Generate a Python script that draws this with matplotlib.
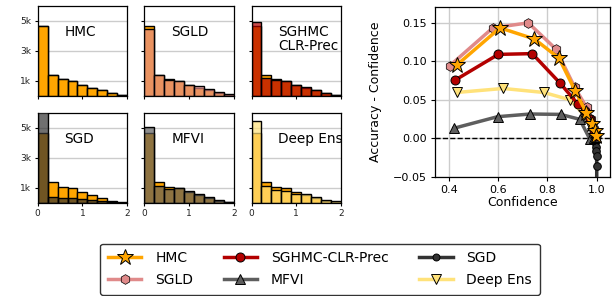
import numpy as np
import matplotlib
matplotlib.use("Agg")
import matplotlib.pyplot as plt
from matplotlib.lines import Line2D
from matplotlib.colors import to_rgba

#####################
# Data
#####################

bin_edges = np.linspace(0, 2, 10)

# histogram counts per bin
hist_hmc = [4660, 1360, 1070, 980, 730, 530, 350, 150, 30]
hist_sgld = [4440, 1340, 1020, 960, 710, 620, 440, 260, 80]
hist_sghmc = [4930, 1160, 1020, 970, 730, 570, 400, 170, 60]
hist_sgd = [8300, 410, 310, 310, 245, 180, 130, 60, 20]
hist_mfvi = [5050, 1120, 910, 980, 780, 580, 380, 210, 70]
hist_ens = [5490, 1090, 870, 800, 580, 555, 380, 200, 90]

# reliability curves: confidence vs (accuracy - confidence)
conf_hmc = [0.431, 0.607, 0.747, 0.847, 0.912, 0.958, 0.979, 0.993, 0.999]
gap_hmc = [0.095, 0.1435, 0.129, 0.104, 0.062, 0.033, 0.018, 0.009, 0.003]

conf_sgld = [0.402, 0.578, 0.722, 0.834, 0.911, 0.959, 0.975, 0.99, 0.998]
gap_sgld = [0.094, 0.1435, 0.150, 0.116, 0.066, 0.040, 0.025, 0.012, 0.004]

conf_sghmc = [0.424, 0.600, 0.738, 0.850, 0.925, 0.952, 0.972, 0.99, 0.998]
gap_sghmc = [0.0754, 0.109, 0.110, 0.072, 0.044, 0.036, 0.025, 0.01, 0.003]

conf_sgd = [0.985, 0.995, 0.998, 0.999, 0.9995, 1.0, 1.0]
gap_sgd = [0.0, -0.0045, -0.011, -0.017, -0.023, -0.036, -0.09]

conf_mfvi = [0.420, 0.597, 0.730, 0.853, 0.931, 0.972, 0.990, 0.999]
gap_mfvi = [0.013, 0.028, 0.0315, 0.031, 0.0246, -0.001, 0.0, 0.002]

conf_ens = [0.431, 0.620, 0.785, 0.891, 0.950, 0.980, 0.995]
gap_ens = [0.0595, 0.0647, 0.0595, 0.050, 0.030, 0.012, 0.003]

c_hmc = '#ffa500'
c_sgld = '#e08a8a'
c_sghmc = '#b30000'
c_sgd = '#333333'
c_mfvi = '#5e5e5e'
c_ens = '#ffe27a'

#####################
# Figure
#####################

W, H = 613, 296
fig = plt.figure(figsize=(W / 100, H / 100), dpi=100)


def px_axes(left, top, width, height):
    return fig.add_axes([left / W, 1 - (top + height) / H, width / W, height / H])


panels = [
    ("HMC", hist_hmc, c_hmc),
    ("SGLD", hist_sgld, c_sgld),
    ("SGHMC\nCLR-Prec", hist_sghmc, c_sghmc),
    ("SGD", hist_sgd, c_sgd),
    ("MFVI", hist_mfvi, c_mfvi),
    ("Deep Ens", hist_ens, c_ens),
]
col_left = [37.7, 144.3, 251.5]
row_top = [5.7, 113]

for i, (name, counts, col) in enumerate(panels):
    ax = px_axes(col_left[i % 3], row_top[i // 3], 89.5, 89.8)
    widths = np.diff(bin_edges)
    ax.bar(bin_edges[:-1], hist_hmc, width=widths, align='edge', color=c_hmc,
           edgecolor='black', linewidth=1.0, zorder=2)
    ax.bar(bin_edges[:-1], counts, width=widths, align='edge', color=to_rgba(col, 0.7),
           edgecolor='black', linewidth=1.0, zorder=3)
    ax.set_xlim(0, 2)
    ax.set_ylim(0, 6000)
    ax.set_yticks([1000, 3000, 5000])
    ax.set_xticks([0, 1, 2])
    ax.grid(axis='y', color='#cccccc', linewidth=1, zorder=0)
    ax.set_axisbelow(True)
    if i < 3:
        ax.set_xticklabels([])
    if i % 3 == 0:
        ax.set_yticklabels(['1k', '3k', '5k'])
    else:
        ax.set_yticklabels([])
    ax.tick_params(labelsize=6.5, length=2.5, width=0.8, pad=2, labelcolor='#222222')
    for s in ax.spines.values():
        s.set_linewidth(0.9)
    ax.text(0.3, 0.79, name, transform=ax.transAxes, ha='left', va='top',
            fontsize=9.8, linespacing=1.0, zorder=5)

#####################
# Reliability plot
#####################

ax = px_axes(435, 6.7, 175, 170)
ax.axhline(0, color='black', linestyle='--', linewidth=1, zorder=1)
lw = 2.5
ax.plot(conf_sgd, gap_sgd, color=c_sgd, lw=lw, marker='o', ms=5.5,
        mfc=c_sgd, mec='black', mew=0.7, zorder=3)
ax.plot(conf_mfvi, gap_mfvi, color=c_mfvi, lw=lw, marker='^', ms=7,
        mfc=c_mfvi, mec='black', mew=0.7, zorder=3)
ax.plot(conf_ens, gap_ens, color=c_ens, lw=lw, marker='v', ms=7,
        mfc=c_ens, mec='black', mew=0.7, zorder=3)
ax.plot(conf_sgld, gap_sgld, color=c_sgld, lw=lw, marker='h', ms=7,
        mfc=c_sgld, mec='black', mew=0.5, zorder=3)
ax.plot(conf_sghmc, gap_sghmc, color=c_sghmc, lw=lw, marker='o', ms=6.5,
        mfc=c_sghmc, mec='black', mew=0.7, zorder=3)
ax.plot(conf_hmc, gap_hmc, color=c_hmc, lw=lw, marker='*', ms=12,
        mfc=c_hmc, mec='black', mew=0.7, zorder=4)

ax.set_xlim(0.343, 1.054)
ax.set_ylim(-0.05, 0.171)
ax.set_xticks([0.4, 0.6, 0.8, 1.0])
ax.set_yticks([-0.05, 0.0, 0.05, 0.10, 0.15])
ax.grid(color='#cccccc', linewidth=1, zorder=0)
ax.set_axisbelow(True)
ax.tick_params(labelsize=8, length=3, width=0.8, pad=3)
for s in ax.spines.values():
    s.set_linewidth(0.9)
ax.set_xlabel("Confidence", fontsize=9, labelpad=1)
ax.set_ylabel("Accuracy - Confidence", fontsize=9, labelpad=8)

#####################
# Legend
#####################

handles = [
    Line2D([], [], color=c_hmc, lw=lw, marker='*', ms=12, mfc=c_hmc, mec='black', mew=0.7),
    Line2D([], [], color=c_sgld, lw=lw, marker='h', ms=7, mfc=c_sgld, mec='black', mew=0.5),
    Line2D([], [], color=c_sghmc, lw=lw, marker='o', ms=6.5, mfc=c_sghmc, mec='black', mew=0.7),
    Line2D([], [], color=c_mfvi, lw=lw, marker='^', ms=7, mfc=c_mfvi, mec='black', mew=0.7),
    Line2D([], [], color=c_sgd, lw=lw, marker='o', ms=5, mfc=c_sgd, mec='black', mew=0.7),
    Line2D([], [], color=c_ens, lw=lw, marker='v', ms=7, mfc=c_ens, mec='black', mew=0.7),
]
labels = ["HMC", "SGLD", "SGHMC-CLR-Prec", "MFVI", "SGD", "Deep Ens"]
leg = fig.legend(handles, labels, ncol=3, loc='center', bbox_to_anchor=(0.522, 0.091),
                 fontsize=10, frameon=True, fancybox=True, handlelength=2.4,
                 columnspacing=2.2, handletextpad=1.0, borderpad=0.55, labelspacing=0.55)
leg.get_frame().set_edgecolor('black')
leg.get_frame().set_linewidth(1.0)

fig.savefig("out.png", dpi=100)
